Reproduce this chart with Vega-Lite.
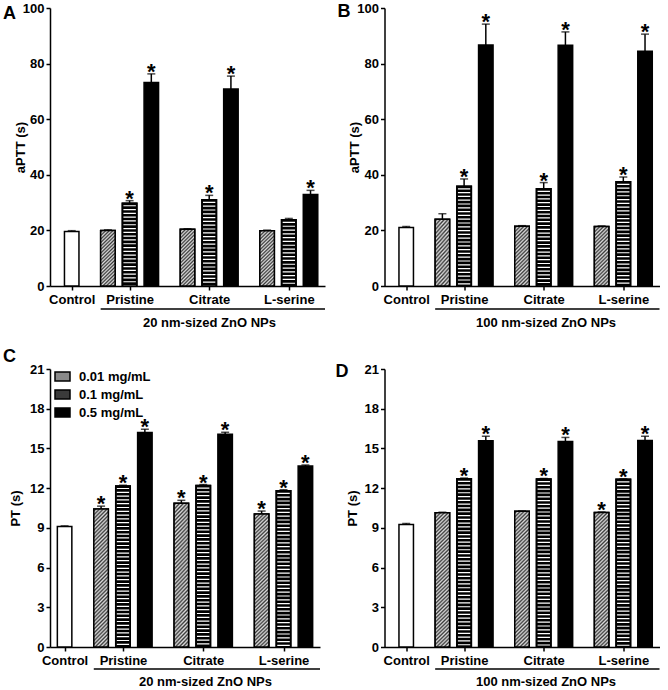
{
  "$schema": "https://vega.github.io/schema/vega-lite/v6.json",
  "background": "white",
  "padding": {"left": 3, "top": 2, "right": 5, "bottom": 0},
  "config": {
    "font": "Liberation Sans",
    "view": {"stroke": null},
    "axis": {"domainColor": "black", "domainWidth": 1.5, "tickColor": "black", "tickWidth": 1.5, "tickSize": 4, "labelColor": "black", "labelFont": "Liberation Sans", "labelFontWeight": "bold", "labelFontSize": 13, "labelPadding": 2, "labelOverlap": false, "titleFont": "Liberation Sans", "titleFontWeight": "bold", "titleFontSize": 13, "titleColor": "black", "grid": false}
  },
  "datasets": {
    "A": [
      {"bar": "Control", "dose": "Control", "value": 19.6, "upper": 19.9, "star": 0},
      {"bar": "Pristine|0.01", "dose": "0.01 mg/mL", "value": 20.0, "upper": 20.2, "star": 0},
      {"bar": "Pristine|0.1", "dose": "0.1 mg/mL", "value": 29.8, "upper": 30.7, "star": 1},
      {"bar": "Pristine|0.5", "dose": "0.5 mg/mL", "value": 73.2, "upper": 76.3, "star": 1},
      {"bar": "Citrate|0.01", "dose": "0.01 mg/mL", "value": 20.4, "upper": 20.6, "star": 0},
      {"bar": "Citrate|0.1", "dose": "0.1 mg/mL", "value": 31.0, "upper": 32.6, "star": 1},
      {"bar": "Citrate|0.5", "dose": "0.5 mg/mL", "value": 70.9, "upper": 75.5, "star": 1},
      {"bar": "L-serine|0.01", "dose": "0.01 mg/mL", "value": 19.9, "upper": 20.1, "star": 0},
      {"bar": "L-serine|0.1", "dose": "0.1 mg/mL", "value": 23.8, "upper": 24.3, "star": 0},
      {"bar": "L-serine|0.5", "dose": "0.5 mg/mL", "value": 32.9, "upper": 34.4, "star": 1}
    ],
    "B": [
      {"bar": "Control", "dose": "Control", "value": 21.0, "upper": 21.4, "star": 0},
      {"bar": "Pristine|0.01", "dose": "0.01 mg/mL", "value": 24.0, "upper": 26.0, "star": 0},
      {"bar": "Pristine|0.1", "dose": "0.1 mg/mL", "value": 35.9, "upper": 38.5, "star": 1},
      {"bar": "Pristine|0.5", "dose": "0.5 mg/mL", "value": 86.7, "upper": 94.2, "star": 1},
      {"bar": "Citrate|0.01", "dose": "0.01 mg/mL", "value": 21.5, "upper": 21.7, "star": 0},
      {"bar": "Citrate|0.1", "dose": "0.1 mg/mL", "value": 35.0, "upper": 37.2, "star": 1},
      {"bar": "Citrate|0.5", "dose": "0.5 mg/mL", "value": 86.6, "upper": 91.4, "star": 1},
      {"bar": "L-serine|0.01", "dose": "0.01 mg/mL", "value": 21.4, "upper": 21.6, "star": 0},
      {"bar": "L-serine|0.1", "dose": "0.1 mg/mL", "value": 37.5, "upper": 39.2, "star": 1},
      {"bar": "L-serine|0.5", "dose": "0.5 mg/mL", "value": 84.4, "upper": 90.6, "star": 1}
    ],
    "C": [
      {"bar": "Control", "dose": "Control", "value": 9.1, "upper": 9.15, "star": 0},
      {"bar": "Pristine|0.01", "dose": "0.01 mg/mL", "value": 10.42, "upper": 10.64, "star": 1},
      {"bar": "Pristine|0.1", "dose": "0.1 mg/mL", "value": 12.17, "upper": 12.22, "star": 1},
      {"bar": "Pristine|0.5", "dose": "0.5 mg/mL", "value": 16.2, "upper": 16.45, "star": 1},
      {"bar": "Citrate|0.01", "dose": "0.01 mg/mL", "value": 10.86, "upper": 11.08, "star": 1},
      {"bar": "Citrate|0.1", "dose": "0.1 mg/mL", "value": 12.2, "upper": 12.27, "star": 1},
      {"bar": "Citrate|0.5", "dose": "0.5 mg/mL", "value": 16.08, "upper": 16.22, "star": 1},
      {"bar": "L-serine|0.01", "dose": "0.01 mg/mL", "value": 10.05, "upper": 10.27, "star": 1},
      {"bar": "L-serine|0.1", "dose": "0.1 mg/mL", "value": 11.8, "upper": 11.88, "star": 1},
      {"bar": "L-serine|0.5", "dose": "0.5 mg/mL", "value": 13.68, "upper": 13.75, "star": 1}
    ],
    "D": [
      {"bar": "Control", "dose": "Control", "value": 9.25, "upper": 9.33, "star": 0},
      {"bar": "Pristine|0.01", "dose": "0.01 mg/mL", "value": 10.15, "upper": 10.18, "star": 0},
      {"bar": "Pristine|0.1", "dose": "0.1 mg/mL", "value": 12.71, "upper": 12.76, "star": 1},
      {"bar": "Pristine|0.5", "dose": "0.5 mg/mL", "value": 15.58, "upper": 15.92, "star": 1},
      {"bar": "Citrate|0.01", "dose": "0.01 mg/mL", "value": 10.25, "upper": 10.28, "star": 0},
      {"bar": "Citrate|0.1", "dose": "0.1 mg/mL", "value": 12.69, "upper": 12.73, "star": 1},
      {"bar": "Citrate|0.5", "dose": "0.5 mg/mL", "value": 15.52, "upper": 15.83, "star": 1},
      {"bar": "L-serine|0.01", "dose": "0.01 mg/mL", "value": 10.16, "upper": 10.2, "star": 1},
      {"bar": "L-serine|0.1", "dose": "0.1 mg/mL", "value": 12.67, "upper": 12.7, "star": 1},
      {"bar": "L-serine|0.5", "dose": "0.5 mg/mL", "value": 15.6, "upper": 15.92, "star": 1}
    ],
    "ul": [{"bar": "_4", "bar2": "_35"}]
  },
  "resolve": {"scale": {"fill": "independent"}, "legend": {"fill": "independent"}},
  "columns": 2,
  "spacing": {"row": 83, "column": 59.5},
  "bounds": "flush",
  "concat": [
    {
      "width": 275, "height": 278,
      "data": {"name": "A"},
      "encoding": {
        "x": {"field": "bar", "type": "ordinal",
          "scale": {"type": "point", "padding": 0, "domain": ["_a", "_b", "_c", "Control", "_1", "_2", "_3", "_4", "Pristine|0.01", "_6", "_7", "Pristine|0.1", "_9", "_10", "Pristine|0.5", "_12", "_13", "_14", "_15", "Citrate|0.01", "_17", "_18", "Citrate|0.1", "_20", "_21", "Citrate|0.5", "_23", "_24", "_25", "_26", "L-serine|0.01", "_28", "_29", "L-serine|0.1", "_31", "_32", "L-serine|0.5", "_34", "_35"]},
          "axis": {"values": ["Control", "Pristine|0.1", "Citrate|0.1", "L-serine|0.1"], "labelExpr": "split(datum.value, '|')[0]", "labelAngle": 0, "labelPadding": 3, "labelOverlap": false, "title": "20 nm-sized ZnO NPs", "titleX": 159, "titlePadding": 10}}
      },
      "layer": [
        {"mark": {"type": "bar", "width": 14.5, "stroke": "black", "strokeWidth": 1.5},
         "encoding": {
           "y": {"field": "value", "type": "quantitative", "scale": {"domain": [0, 100], "nice": false}, "axis": {"values": [0, 20, 40, 60, 80, 100], "labelOverlap": false, "title": "aPTT (s)", "titleX": -30, "titleBaseline": "middle"}},
           "fill": {"field": "dose", "type": "nominal", "legend": null,
             "scale": {"domain": ["Control", "0.01 mg/mL", "0.1 mg/mL", "0.5 mg/mL"], "range": ["white", "#8a8a8a", "black", "black"]}}
         }},
        {"transform": [{"filter": "datum.dose === '0.01 mg/mL'"}],
         "mark": {"type": "bar", "width": 14.5, "stroke": "black", "strokeWidth": 1.5,
           "fill": {"gradient": "linear", "x1": 0, "y1": 0, "x2": 0.3, "y2": 1.18, "stops": [{"offset": 0, "color": "#dcdcdc"}, {"offset": 0.025, "color": "#3a3a3a"}, {"offset": 0.05, "color": "#dcdcdc"}, {"offset": 0.075, "color": "#3a3a3a"}, {"offset": 0.1, "color": "#dcdcdc"}, {"offset": 0.125, "color": "#3a3a3a"}, {"offset": 0.15, "color": "#dcdcdc"}, {"offset": 0.175, "color": "#3a3a3a"}, {"offset": 0.2, "color": "#dcdcdc"}, {"offset": 0.225, "color": "#3a3a3a"}, {"offset": 0.25, "color": "#dcdcdc"}, {"offset": 0.275, "color": "#3a3a3a"}, {"offset": 0.3, "color": "#dcdcdc"}, {"offset": 0.325, "color": "#3a3a3a"}, {"offset": 0.35, "color": "#dcdcdc"}, {"offset": 0.375, "color": "#3a3a3a"}, {"offset": 0.4, "color": "#dcdcdc"}, {"offset": 0.425, "color": "#3a3a3a"}, {"offset": 0.45, "color": "#dcdcdc"}, {"offset": 0.475, "color": "#3a3a3a"}, {"offset": 0.5, "color": "#dcdcdc"}, {"offset": 0.525, "color": "#3a3a3a"}, {"offset": 0.55, "color": "#dcdcdc"}, {"offset": 0.575, "color": "#3a3a3a"}, {"offset": 0.6, "color": "#dcdcdc"}, {"offset": 0.625, "color": "#3a3a3a"}, {"offset": 0.65, "color": "#dcdcdc"}, {"offset": 0.675, "color": "#3a3a3a"}, {"offset": 0.7, "color": "#dcdcdc"}, {"offset": 0.725, "color": "#3a3a3a"}, {"offset": 0.75, "color": "#dcdcdc"}, {"offset": 0.775, "color": "#3a3a3a"}, {"offset": 0.8, "color": "#dcdcdc"}, {"offset": 0.825, "color": "#3a3a3a"}, {"offset": 0.85, "color": "#dcdcdc"}, {"offset": 0.875, "color": "#3a3a3a"}, {"offset": 0.9, "color": "#dcdcdc"}, {"offset": 0.925, "color": "#3a3a3a"}, {"offset": 0.95, "color": "#dcdcdc"}, {"offset": 0.975, "color": "#3a3a3a"}, {"offset": 1, "color": "#dcdcdc"}]}},
         "encoding": {"y": {"field": "value", "type": "quantitative"}}},
        {"transform": [{"filter": "datum.dose === '0.1 mg/mL'"}],
         "mark": {"type": "rule", "stroke": "white", "strokeWidth": 12.5, "strokeDash": [1.2, 2.6], "strokeDashOffset": -2, "strokeCap": "butt"},
         "encoding": {"y": {"field": "value", "type": "quantitative"}, "y2": {"datum": 0}}},
        {"transform": [{"filter": "datum.dose === '0.1 mg/mL'"}],
         "mark": {"type": "bar", "width": 14.5, "fill": "transparent", "stroke": "black", "strokeWidth": 1.5},
         "encoding": {"y": {"field": "value", "type": "quantitative"}}},
        {"mark": {"type": "rule", "stroke": "black", "strokeWidth": 1.5},
         "encoding": {"y": {"field": "value", "type": "quantitative"}, "y2": {"field": "upper"}}},
        {"mark": {"type": "tick", "color": "black", "size": 8, "thickness": 1.5},
         "encoding": {"y": {"field": "upper", "type": "quantitative"}}},
        {"transform": [{"filter": "datum.star == 1"}],
         "mark": {"type": "text", "text": "*", "font": "Liberation Sans", "fontSize": 22, "fontWeight": "bold", "baseline": "alphabetic", "dy": 5, "color": "black"},
         "encoding": {"y": {"field": "upper", "type": "quantitative"}}},
        {"data": {"name": "ul"},
         "mark": {"type": "rule", "stroke": "black", "strokeWidth": 1.5},
         "encoding": {"x2": {"field": "bar2"}, "y": {"value": 301}}},
        {"data": {"values": [{"letter": "A"}]},
         "mark": {"type": "text", "font": "Liberation Sans", "fontSize": 18, "fontWeight": "bold", "align": "left", "baseline": "alphabetic", "color": "black"},
         "encoding": {"x": {"value": -47}, "y": {"value": 11}, "text": {"field": "letter"}}}
      ]
    },
    {
      "width": 275, "height": 278,
      "data": {"name": "B"},
      "encoding": {
        "x": {"field": "bar", "type": "ordinal",
          "scale": {"type": "point", "padding": 0, "domain": ["_a", "_b", "_c", "Control", "_1", "_2", "_3", "_4", "Pristine|0.01", "_6", "_7", "Pristine|0.1", "_9", "_10", "Pristine|0.5", "_12", "_13", "_14", "_15", "Citrate|0.01", "_17", "_18", "Citrate|0.1", "_20", "_21", "Citrate|0.5", "_23", "_24", "_25", "_26", "L-serine|0.01", "_28", "_29", "L-serine|0.1", "_31", "_32", "L-serine|0.5", "_34", "_35"]},
          "axis": {"values": ["Control", "Pristine|0.1", "Citrate|0.1", "L-serine|0.1"], "labelExpr": "split(datum.value, '|')[0]", "labelAngle": 0, "labelPadding": 3, "labelOverlap": false, "title": "100 nm-sized ZnO NPs", "titleX": 161, "titlePadding": 10}}
      },
      "layer": [
        {"mark": {"type": "bar", "width": 14.5, "stroke": "black", "strokeWidth": 1.5},
         "encoding": {
           "y": {"field": "value", "type": "quantitative", "scale": {"domain": [0, 100], "nice": false}, "axis": {"values": [0, 20, 40, 60, 80, 100], "labelOverlap": false, "title": "aPTT (s)", "titleX": -30, "titleBaseline": "middle"}},
           "fill": {"field": "dose", "type": "nominal", "legend": null,
             "scale": {"domain": ["Control", "0.01 mg/mL", "0.1 mg/mL", "0.5 mg/mL"], "range": ["white", "#8a8a8a", "black", "black"]}}
         }},
        {"transform": [{"filter": "datum.dose === '0.01 mg/mL'"}],
         "mark": {"type": "bar", "width": 14.5, "stroke": "black", "strokeWidth": 1.5,
           "fill": {"gradient": "linear", "x1": 0, "y1": 0, "x2": 0.285, "y2": 1.174, "stops": [{"offset": 0, "color": "#dcdcdc"}, {"offset": 0.025, "color": "#3a3a3a"}, {"offset": 0.05, "color": "#dcdcdc"}, {"offset": 0.075, "color": "#3a3a3a"}, {"offset": 0.1, "color": "#dcdcdc"}, {"offset": 0.125, "color": "#3a3a3a"}, {"offset": 0.15, "color": "#dcdcdc"}, {"offset": 0.175, "color": "#3a3a3a"}, {"offset": 0.2, "color": "#dcdcdc"}, {"offset": 0.225, "color": "#3a3a3a"}, {"offset": 0.25, "color": "#dcdcdc"}, {"offset": 0.275, "color": "#3a3a3a"}, {"offset": 0.3, "color": "#dcdcdc"}, {"offset": 0.325, "color": "#3a3a3a"}, {"offset": 0.35, "color": "#dcdcdc"}, {"offset": 0.375, "color": "#3a3a3a"}, {"offset": 0.4, "color": "#dcdcdc"}, {"offset": 0.425, "color": "#3a3a3a"}, {"offset": 0.45, "color": "#dcdcdc"}, {"offset": 0.475, "color": "#3a3a3a"}, {"offset": 0.5, "color": "#dcdcdc"}, {"offset": 0.525, "color": "#3a3a3a"}, {"offset": 0.55, "color": "#dcdcdc"}, {"offset": 0.575, "color": "#3a3a3a"}, {"offset": 0.6, "color": "#dcdcdc"}, {"offset": 0.625, "color": "#3a3a3a"}, {"offset": 0.65, "color": "#dcdcdc"}, {"offset": 0.675, "color": "#3a3a3a"}, {"offset": 0.7, "color": "#dcdcdc"}, {"offset": 0.725, "color": "#3a3a3a"}, {"offset": 0.75, "color": "#dcdcdc"}, {"offset": 0.775, "color": "#3a3a3a"}, {"offset": 0.8, "color": "#dcdcdc"}, {"offset": 0.825, "color": "#3a3a3a"}, {"offset": 0.85, "color": "#dcdcdc"}, {"offset": 0.875, "color": "#3a3a3a"}, {"offset": 0.9, "color": "#dcdcdc"}, {"offset": 0.925, "color": "#3a3a3a"}, {"offset": 0.95, "color": "#dcdcdc"}, {"offset": 0.975, "color": "#3a3a3a"}, {"offset": 1, "color": "#dcdcdc"}]}},
         "encoding": {"y": {"field": "value", "type": "quantitative"}}},
        {"transform": [{"filter": "datum.dose === '0.1 mg/mL'"}],
         "mark": {"type": "rule", "stroke": "white", "strokeWidth": 12.5, "strokeDash": [1.2, 2.6], "strokeDashOffset": -2, "strokeCap": "butt"},
         "encoding": {"y": {"field": "value", "type": "quantitative"}, "y2": {"datum": 0}}},
        {"transform": [{"filter": "datum.dose === '0.1 mg/mL'"}],
         "mark": {"type": "bar", "width": 14.5, "fill": "transparent", "stroke": "black", "strokeWidth": 1.5},
         "encoding": {"y": {"field": "value", "type": "quantitative"}}},
        {"mark": {"type": "rule", "stroke": "black", "strokeWidth": 1.5},
         "encoding": {"y": {"field": "value", "type": "quantitative"}, "y2": {"field": "upper"}}},
        {"mark": {"type": "tick", "color": "black", "size": 8, "thickness": 1.5},
         "encoding": {"y": {"field": "upper", "type": "quantitative"}}},
        {"transform": [{"filter": "datum.star == 1"}],
         "mark": {"type": "text", "text": "*", "font": "Liberation Sans", "fontSize": 22, "fontWeight": "bold", "baseline": "alphabetic", "dy": 5, "color": "black"},
         "encoding": {"y": {"field": "upper", "type": "quantitative"}}},
        {"data": {"name": "ul"},
         "mark": {"type": "rule", "stroke": "black", "strokeWidth": 1.5},
         "encoding": {"x2": {"field": "bar2"}, "y": {"value": 301}}},
        {"data": {"values": [{"letter": "B"}]},
         "mark": {"type": "text", "font": "Liberation Sans", "fontSize": 18, "fontWeight": "bold", "align": "left", "baseline": "alphabetic", "color": "black"},
         "encoding": {"x": {"value": -47}, "y": {"value": 8.5}, "text": {"field": "letter"}}}
      ]
    },
    {
      "width": 270, "height": 278,
      "data": {"name": "C"},
      "encoding": {
        "x": {"field": "bar", "type": "ordinal",
          "scale": {"type": "point", "padding": 0, "domain": ["_b", "_c", "Control", "_1", "_2", "_3", "_4", "Pristine|0.01", "_6", "_7", "Pristine|0.1", "_9", "_10", "Pristine|0.5", "_12", "_13", "_14", "_15", "Citrate|0.01", "_17", "_18", "Citrate|0.1", "_20", "_21", "Citrate|0.5", "_23", "_24", "_25", "_26", "L-serine|0.01", "_28", "_29", "L-serine|0.1", "_31", "_32", "L-serine|0.5", "_34", "_35"]},
          "axis": {"values": ["Control", "Pristine|0.1", "Citrate|0.1", "L-serine|0.1"], "labelExpr": "split(datum.value, '|')[0]", "labelAngle": 0, "labelPadding": 3, "labelOverlap": false, "title": "20 nm-sized ZnO NPs", "titleX": 155, "titlePadding": 8}}
      },
      "layer": [
        {"mark": {"type": "bar", "width": 14.5, "stroke": "black", "strokeWidth": 1.5},
         "encoding": {
           "y": {"field": "value", "type": "quantitative", "scale": {"domain": [0, 21], "nice": false}, "axis": {"values": [0, 3, 6, 9, 12, 15, 18, 21], "labelOverlap": false, "tickCount": 8, "title": "PT (s)", "titleX": -35, "titleBaseline": "middle"}},
           "fill": {"field": "dose", "type": "nominal",
             "legend": {"values": ["0.01 mg/mL", "0.1 mg/mL", "0.5 mg/mL"], "title": null, "orient": "none", "legendX": 4, "legendY": -1, "padding": 0, "symbolType": "M-1,-0.6H1V0.6H-1Z", "symbolSize": 225, "symbolStrokeColor": "black", "symbolStrokeWidth": 1.5, "labelFont": "Liberation Sans", "labelFontWeight": "bold", "labelFontSize": 13, "labelColor": "black", "labelOffset": 8, "rowPadding": 2},
             "scale": {"domain": ["Control", "0.01 mg/mL", "0.1 mg/mL", "0.5 mg/mL"], "range": ["white", "#8a8a8a", "#3a3a3a", "black"]}}
         }},
        {"transform": [{"filter": "datum.dose === '0.01 mg/mL'"}],
         "mark": {"type": "bar", "width": 14.5, "stroke": "black", "strokeWidth": 1.5,
           "fill": {"gradient": "linear", "x1": 0, "y1": 0, "x2": 0.116, "y2": 1.094, "stops": [{"offset": 0, "color": "#dcdcdc"}, {"offset": 0.0125, "color": "#3a3a3a"}, {"offset": 0.025, "color": "#dcdcdc"}, {"offset": 0.0375, "color": "#3a3a3a"}, {"offset": 0.05, "color": "#dcdcdc"}, {"offset": 0.0625, "color": "#3a3a3a"}, {"offset": 0.075, "color": "#dcdcdc"}, {"offset": 0.0875, "color": "#3a3a3a"}, {"offset": 0.1, "color": "#dcdcdc"}, {"offset": 0.1125, "color": "#3a3a3a"}, {"offset": 0.125, "color": "#dcdcdc"}, {"offset": 0.1375, "color": "#3a3a3a"}, {"offset": 0.15, "color": "#dcdcdc"}, {"offset": 0.1625, "color": "#3a3a3a"}, {"offset": 0.175, "color": "#dcdcdc"}, {"offset": 0.1875, "color": "#3a3a3a"}, {"offset": 0.2, "color": "#dcdcdc"}, {"offset": 0.2125, "color": "#3a3a3a"}, {"offset": 0.225, "color": "#dcdcdc"}, {"offset": 0.2375, "color": "#3a3a3a"}, {"offset": 0.25, "color": "#dcdcdc"}, {"offset": 0.2625, "color": "#3a3a3a"}, {"offset": 0.275, "color": "#dcdcdc"}, {"offset": 0.2875, "color": "#3a3a3a"}, {"offset": 0.3, "color": "#dcdcdc"}, {"offset": 0.3125, "color": "#3a3a3a"}, {"offset": 0.325, "color": "#dcdcdc"}, {"offset": 0.3375, "color": "#3a3a3a"}, {"offset": 0.35, "color": "#dcdcdc"}, {"offset": 0.3625, "color": "#3a3a3a"}, {"offset": 0.375, "color": "#dcdcdc"}, {"offset": 0.3875, "color": "#3a3a3a"}, {"offset": 0.4, "color": "#dcdcdc"}, {"offset": 0.4125, "color": "#3a3a3a"}, {"offset": 0.425, "color": "#dcdcdc"}, {"offset": 0.4375, "color": "#3a3a3a"}, {"offset": 0.45, "color": "#dcdcdc"}, {"offset": 0.4625, "color": "#3a3a3a"}, {"offset": 0.475, "color": "#dcdcdc"}, {"offset": 0.4875, "color": "#3a3a3a"}, {"offset": 0.5, "color": "#dcdcdc"}, {"offset": 0.5125, "color": "#3a3a3a"}, {"offset": 0.525, "color": "#dcdcdc"}, {"offset": 0.5375, "color": "#3a3a3a"}, {"offset": 0.55, "color": "#dcdcdc"}, {"offset": 0.5625, "color": "#3a3a3a"}, {"offset": 0.575, "color": "#dcdcdc"}, {"offset": 0.5875, "color": "#3a3a3a"}, {"offset": 0.6, "color": "#dcdcdc"}, {"offset": 0.6125, "color": "#3a3a3a"}, {"offset": 0.625, "color": "#dcdcdc"}, {"offset": 0.6375, "color": "#3a3a3a"}, {"offset": 0.65, "color": "#dcdcdc"}, {"offset": 0.6625, "color": "#3a3a3a"}, {"offset": 0.675, "color": "#dcdcdc"}, {"offset": 0.6875, "color": "#3a3a3a"}, {"offset": 0.7, "color": "#dcdcdc"}, {"offset": 0.7125, "color": "#3a3a3a"}, {"offset": 0.725, "color": "#dcdcdc"}, {"offset": 0.7375, "color": "#3a3a3a"}, {"offset": 0.75, "color": "#dcdcdc"}, {"offset": 0.7625, "color": "#3a3a3a"}, {"offset": 0.775, "color": "#dcdcdc"}, {"offset": 0.7875, "color": "#3a3a3a"}, {"offset": 0.8, "color": "#dcdcdc"}, {"offset": 0.8125, "color": "#3a3a3a"}, {"offset": 0.825, "color": "#dcdcdc"}, {"offset": 0.8375, "color": "#3a3a3a"}, {"offset": 0.85, "color": "#dcdcdc"}, {"offset": 0.8625, "color": "#3a3a3a"}, {"offset": 0.875, "color": "#dcdcdc"}, {"offset": 0.8875, "color": "#3a3a3a"}, {"offset": 0.9, "color": "#dcdcdc"}, {"offset": 0.9125, "color": "#3a3a3a"}, {"offset": 0.925, "color": "#dcdcdc"}, {"offset": 0.9375, "color": "#3a3a3a"}, {"offset": 0.95, "color": "#dcdcdc"}, {"offset": 0.9625, "color": "#3a3a3a"}, {"offset": 0.975, "color": "#dcdcdc"}, {"offset": 0.9875, "color": "#3a3a3a"}, {"offset": 1, "color": "#dcdcdc"}]}},
         "encoding": {"y": {"field": "value", "type": "quantitative"}}},
        {"transform": [{"filter": "datum.dose === '0.1 mg/mL'"}],
         "mark": {"type": "rule", "stroke": "black", "strokeWidth": 13, "strokeCap": "butt"},
         "encoding": {"y": {"field": "value", "type": "quantitative"}, "y2": {"datum": 0}}},
        {"transform": [{"filter": "datum.dose === '0.1 mg/mL'"}],
         "mark": {"type": "rule", "stroke": "white", "strokeWidth": 12.5, "strokeDash": [1.2, 2.6], "strokeDashOffset": -2, "strokeCap": "butt"},
         "encoding": {"y": {"field": "value", "type": "quantitative"}, "y2": {"datum": 0}}},
        {"transform": [{"filter": "datum.dose === '0.1 mg/mL'"}],
         "mark": {"type": "bar", "width": 14.5, "fill": "transparent", "stroke": "black", "strokeWidth": 1.5},
         "encoding": {"y": {"field": "value", "type": "quantitative"}}},
        {"mark": {"type": "rule", "stroke": "black", "strokeWidth": 1.5},
         "encoding": {"y": {"field": "value", "type": "quantitative"}, "y2": {"field": "upper"}}},
        {"mark": {"type": "tick", "color": "black", "size": 8, "thickness": 1.5},
         "encoding": {"y": {"field": "upper", "type": "quantitative"}}},
        {"transform": [{"filter": "datum.star == 1"}],
         "mark": {"type": "text", "text": "*", "font": "Liberation Sans", "fontSize": 22, "fontWeight": "bold", "baseline": "alphabetic", "dy": 5, "color": "black"},
         "encoding": {"y": {"field": "upper", "type": "quantitative"}}},
        {"data": {"name": "ul"},
         "mark": {"type": "rule", "stroke": "black", "strokeWidth": 1.5},
         "encoding": {"x2": {"field": "bar2"}, "y": {"value": 300}}},
        {"data": {"values": [{"letter": "C"}]},
         "mark": {"type": "text", "font": "Liberation Sans", "fontSize": 18, "fontWeight": "bold", "align": "left", "baseline": "alphabetic", "color": "black"},
         "encoding": {"x": {"value": -47}, "y": {"value": -7}, "text": {"field": "letter"}}}
      ]
    },
    {
      "width": 275, "height": 278,
      "data": {"name": "D"},
      "encoding": {
        "x": {"field": "bar", "type": "ordinal",
          "scale": {"type": "point", "padding": 0, "domain": ["_a", "_b", "_c", "Control", "_1", "_2", "_3", "_4", "Pristine|0.01", "_6", "_7", "Pristine|0.1", "_9", "_10", "Pristine|0.5", "_12", "_13", "_14", "_15", "Citrate|0.01", "_17", "_18", "Citrate|0.1", "_20", "_21", "Citrate|0.5", "_23", "_24", "_25", "_26", "L-serine|0.01", "_28", "_29", "L-serine|0.1", "_31", "_32", "L-serine|0.5", "_34", "_35"]},
          "axis": {"values": ["Control", "Pristine|0.1", "Citrate|0.1", "L-serine|0.1"], "labelExpr": "split(datum.value, '|')[0]", "labelAngle": 0, "labelPadding": 3, "labelOverlap": false, "title": "100 nm-sized ZnO NPs", "titleX": 161, "titlePadding": 8}}
      },
      "layer": [
        {"mark": {"type": "bar", "width": 14.5, "stroke": "black", "strokeWidth": 1.5},
         "encoding": {
           "y": {"field": "value", "type": "quantitative", "scale": {"domain": [0, 21], "nice": false}, "axis": {"values": [0, 3, 6, 9, 12, 15, 18, 21], "labelOverlap": false, "tickCount": 8, "title": "PT (s)", "titleX": -32, "titleBaseline": "middle"}},
           "fill": {"field": "dose", "type": "nominal", "legend": null,
             "scale": {"domain": ["Control", "0.01 mg/mL", "0.1 mg/mL", "0.5 mg/mL"], "range": ["white", "#8a8a8a", "black", "black"]}}
         }},
        {"transform": [{"filter": "datum.dose === '0.01 mg/mL'"}],
         "mark": {"type": "bar", "width": 14.5, "stroke": "black", "strokeWidth": 1.5,
           "fill": {"gradient": "linear", "x1": 0, "y1": 0, "x2": 0.116, "y2": 1.094, "stops": [{"offset": 0, "color": "#dcdcdc"}, {"offset": 0.0125, "color": "#3a3a3a"}, {"offset": 0.025, "color": "#dcdcdc"}, {"offset": 0.0375, "color": "#3a3a3a"}, {"offset": 0.05, "color": "#dcdcdc"}, {"offset": 0.0625, "color": "#3a3a3a"}, {"offset": 0.075, "color": "#dcdcdc"}, {"offset": 0.0875, "color": "#3a3a3a"}, {"offset": 0.1, "color": "#dcdcdc"}, {"offset": 0.1125, "color": "#3a3a3a"}, {"offset": 0.125, "color": "#dcdcdc"}, {"offset": 0.1375, "color": "#3a3a3a"}, {"offset": 0.15, "color": "#dcdcdc"}, {"offset": 0.1625, "color": "#3a3a3a"}, {"offset": 0.175, "color": "#dcdcdc"}, {"offset": 0.1875, "color": "#3a3a3a"}, {"offset": 0.2, "color": "#dcdcdc"}, {"offset": 0.2125, "color": "#3a3a3a"}, {"offset": 0.225, "color": "#dcdcdc"}, {"offset": 0.2375, "color": "#3a3a3a"}, {"offset": 0.25, "color": "#dcdcdc"}, {"offset": 0.2625, "color": "#3a3a3a"}, {"offset": 0.275, "color": "#dcdcdc"}, {"offset": 0.2875, "color": "#3a3a3a"}, {"offset": 0.3, "color": "#dcdcdc"}, {"offset": 0.3125, "color": "#3a3a3a"}, {"offset": 0.325, "color": "#dcdcdc"}, {"offset": 0.3375, "color": "#3a3a3a"}, {"offset": 0.35, "color": "#dcdcdc"}, {"offset": 0.3625, "color": "#3a3a3a"}, {"offset": 0.375, "color": "#dcdcdc"}, {"offset": 0.3875, "color": "#3a3a3a"}, {"offset": 0.4, "color": "#dcdcdc"}, {"offset": 0.4125, "color": "#3a3a3a"}, {"offset": 0.425, "color": "#dcdcdc"}, {"offset": 0.4375, "color": "#3a3a3a"}, {"offset": 0.45, "color": "#dcdcdc"}, {"offset": 0.4625, "color": "#3a3a3a"}, {"offset": 0.475, "color": "#dcdcdc"}, {"offset": 0.4875, "color": "#3a3a3a"}, {"offset": 0.5, "color": "#dcdcdc"}, {"offset": 0.5125, "color": "#3a3a3a"}, {"offset": 0.525, "color": "#dcdcdc"}, {"offset": 0.5375, "color": "#3a3a3a"}, {"offset": 0.55, "color": "#dcdcdc"}, {"offset": 0.5625, "color": "#3a3a3a"}, {"offset": 0.575, "color": "#dcdcdc"}, {"offset": 0.5875, "color": "#3a3a3a"}, {"offset": 0.6, "color": "#dcdcdc"}, {"offset": 0.6125, "color": "#3a3a3a"}, {"offset": 0.625, "color": "#dcdcdc"}, {"offset": 0.6375, "color": "#3a3a3a"}, {"offset": 0.65, "color": "#dcdcdc"}, {"offset": 0.6625, "color": "#3a3a3a"}, {"offset": 0.675, "color": "#dcdcdc"}, {"offset": 0.6875, "color": "#3a3a3a"}, {"offset": 0.7, "color": "#dcdcdc"}, {"offset": 0.7125, "color": "#3a3a3a"}, {"offset": 0.725, "color": "#dcdcdc"}, {"offset": 0.7375, "color": "#3a3a3a"}, {"offset": 0.75, "color": "#dcdcdc"}, {"offset": 0.7625, "color": "#3a3a3a"}, {"offset": 0.775, "color": "#dcdcdc"}, {"offset": 0.7875, "color": "#3a3a3a"}, {"offset": 0.8, "color": "#dcdcdc"}, {"offset": 0.8125, "color": "#3a3a3a"}, {"offset": 0.825, "color": "#dcdcdc"}, {"offset": 0.8375, "color": "#3a3a3a"}, {"offset": 0.85, "color": "#dcdcdc"}, {"offset": 0.8625, "color": "#3a3a3a"}, {"offset": 0.875, "color": "#dcdcdc"}, {"offset": 0.8875, "color": "#3a3a3a"}, {"offset": 0.9, "color": "#dcdcdc"}, {"offset": 0.9125, "color": "#3a3a3a"}, {"offset": 0.925, "color": "#dcdcdc"}, {"offset": 0.9375, "color": "#3a3a3a"}, {"offset": 0.95, "color": "#dcdcdc"}, {"offset": 0.9625, "color": "#3a3a3a"}, {"offset": 0.975, "color": "#dcdcdc"}, {"offset": 0.9875, "color": "#3a3a3a"}, {"offset": 1, "color": "#dcdcdc"}]}},
         "encoding": {"y": {"field": "value", "type": "quantitative"}}},
        {"transform": [{"filter": "datum.dose === '0.1 mg/mL'"}],
         "mark": {"type": "rule", "stroke": "white", "strokeWidth": 12.5, "strokeDash": [1.2, 2.6], "strokeDashOffset": -2, "strokeCap": "butt"},
         "encoding": {"y": {"field": "value", "type": "quantitative"}, "y2": {"datum": 0}}},
        {"transform": [{"filter": "datum.dose === '0.1 mg/mL'"}],
         "mark": {"type": "bar", "width": 14.5, "fill": "transparent", "stroke": "black", "strokeWidth": 1.5},
         "encoding": {"y": {"field": "value", "type": "quantitative"}}},
        {"mark": {"type": "rule", "stroke": "black", "strokeWidth": 1.5},
         "encoding": {"y": {"field": "value", "type": "quantitative"}, "y2": {"field": "upper"}}},
        {"mark": {"type": "tick", "color": "black", "size": 8, "thickness": 1.5},
         "encoding": {"y": {"field": "upper", "type": "quantitative"}}},
        {"transform": [{"filter": "datum.star == 1"}],
         "mark": {"type": "text", "text": "*", "font": "Liberation Sans", "fontSize": 22, "fontWeight": "bold", "baseline": "alphabetic", "dy": 5, "color": "black"},
         "encoding": {"y": {"field": "upper", "type": "quantitative"}}},
        {"data": {"name": "ul"},
         "mark": {"type": "rule", "stroke": "black", "strokeWidth": 1.5},
         "encoding": {"x2": {"field": "bar2"}, "y": {"value": 300}}},
        {"data": {"values": [{"letter": "D"}]},
         "mark": {"type": "text", "font": "Liberation Sans", "fontSize": 18, "fontWeight": "bold", "align": "left", "baseline": "alphabetic", "color": "black"},
         "encoding": {"x": {"value": -49}, "y": {"value": 8}, "text": {"field": "letter"}}}
      ]
    }
  ]
}
